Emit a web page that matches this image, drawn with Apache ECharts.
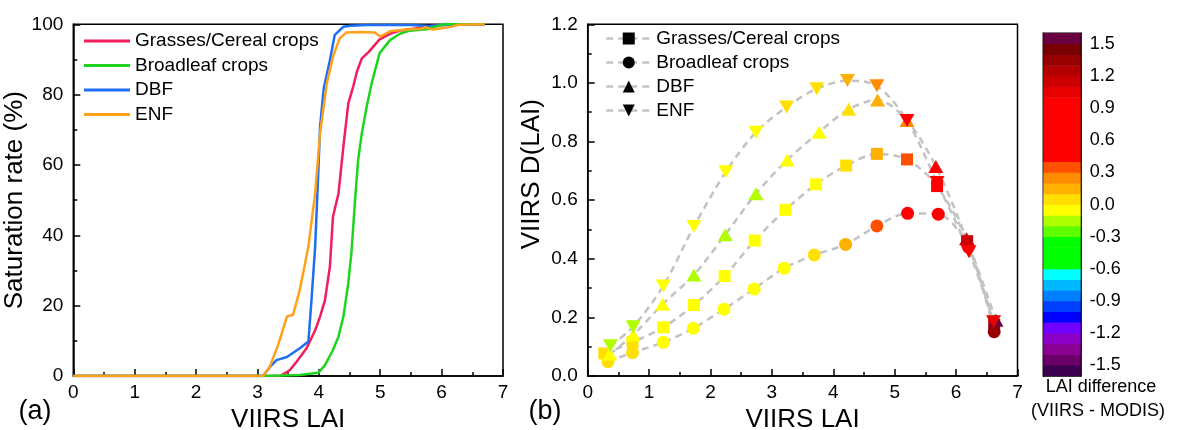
<!DOCTYPE html>
<html><head><meta charset="utf-8">
<script src="https://cdn.jsdelivr.net/npm/echarts@6/dist/echarts.min.js"></script>
<style>html,body{margin:0;padding:0;background:#fff}#c{width:1183px;height:430px}</style>
</head><body><div id="c"></div>
<script>
const FONT = 'Arial, "Liberation Sans", sans-serif';

// ---------- shared ----------
const classNames = ['Grasses/Cereal crops', 'Broadleaf crops', 'DBF', 'ENF'];
const lineColorsA = ['#f21d5b', '#1fd41f', '#1e6ef5', '#ffa01a'];

// ---------- panel (a): saturation rate (%) vs VIIRS LAI ----------
const satGrasses = [[0,0],[3.09,0],[3.37,0],[3.53,1.7],[3.64,4.1],[3.80,7.9],[3.94,13],[4.02,16.9],[4.10,21.6],[4.18,31.1],[4.23,45.3],[4.32,51.9],[4.40,65.2],[4.48,77.5],[4.56,82.3],[4.62,86.5],[4.70,90.3],[4.81,92.1],[4.99,95.7],[5.16,97.3],[5.32,98.2],[5.59,98.9],[5.86,99.6],[6.2,100],[6.7,100]];
const satBroadleaf = [[0,0],[3.09,0],[3.69,0.3],[3.99,0.9],[4.10,3.1],[4.23,7.4],[4.32,11.2],[4.40,16.9],[4.48,26.4],[4.53,34.9],[4.59,50],[4.64,61.4],[4.70,69],[4.78,76.6],[4.86,83.2],[4.99,91.8],[5.16,95.5],[5.32,97.3],[5.48,98.2],[5.76,98.6],[6.03,100],[6.7,100]];
const satDBF = [[0,0],[3.09,0],[3.20,2.5],[3.31,4.5],[3.48,5.4],[3.69,7.9],[3.83,9.8],[3.88,21.6],[3.94,36.8],[3.99,57.6],[4.02,70.9],[4.08,81.8],[4.18,89.8],[4.26,97],[4.40,99.3],[4.51,99.6],[4.78,99.8],[5.5,99.8],[5.8,99.5],[6.0,99.8],[6.5,100],[6.7,100]];
const satENF = [[0,0],[3.09,0],[3.20,2.6],[3.34,9],[3.48,16.9],[3.58,17.4],[3.69,24.5],[3.83,36.8],[3.94,52],[4.02,69],[4.13,83.2],[4.23,90.8],[4.34,96],[4.45,97.7],[4.70,97.8],[4.91,97.7],[5.00,96.5],[5.16,98],[5.43,98.5],[5.67,98.7],[5.73,99.2],[5.86,98.5],[6.13,99.2],[6.29,99.9],[6.7,100]];

// ---------- panel (b): [VIIRS LAI, VIIRS D(LAI), LAI difference] ----------
const dGrasses = [[0.27,0.077,0.05],[0.73,0.115,0.05],[1.23,0.166,-0.05],[1.73,0.242,-0.05],[2.23,0.341,-0.05],[2.72,0.462,-0.05],[3.22,0.567,-0.05],[3.72,0.654,-0.05],[4.21,0.718,0.05],[4.71,0.758,0.15],[5.20,0.739,0.35],[5.69,0.648,0.6],[6.18,0.46,1.15],[6.62,0.175,1.25]];
const dBroadleaf = [[0.33,0.049,0.05],[0.73,0.080,0.05],[1.23,0.115,-0.05],[1.72,0.163,-0.05],[2.22,0.228,-0.05],[2.71,0.297,-0.05],[3.20,0.368,-0.05],[3.69,0.413,0.05],[4.20,0.449,0.15],[4.71,0.512,0.35],[5.21,0.555,0.6],[5.71,0.552,0.6],[6.20,0.44,0.9],[6.62,0.151,1.35]];
const dDBF = [[0.36,0.075,-0.05],[0.74,0.14,-0.05],[1.22,0.245,-0.05],[1.73,0.345,-0.15],[2.24,0.482,-0.15],[2.74,0.622,-0.15],[3.25,0.737,-0.05],[3.77,0.832,-0.05],[4.25,0.91,0.05],[4.72,0.942,0.15],[5.20,0.872,0.25],[5.67,0.715,0.6],[6.17,0.468,1.15],[6.65,0.19,1.55]];
const dENF = [[0.37,0.103,-0.15],[0.74,0.168,-0.15],[1.23,0.307,-0.05],[1.73,0.51,-0.05],[2.25,0.697,-0.05],[2.74,0.832,-0.05],[3.24,0.918,0.05],[3.73,0.98,0.05],[4.23,1.008,0.15],[4.71,0.99,0.25],[5.20,0.872,0.6],[5.69,0.66,0.6],[6.21,0.424,0.8],[6.61,0.185,1.05]];
const markerSymbols = ['rect', 'circle', 'triangle', 'triangle'];
const markerRotate = [0, 0, 0, 180];

// ---------- colour bar (LAI difference) ----------
const cbarEdges = [-1.6,-1.5,-1.4,-1.3,-1.2,-1.1,-1.0,-0.9,-0.8,-0.7,-0.6,-0.5,-0.4,-0.3,-0.2,-0.1,0.0,0.1,0.2,0.3,0.4,0.5,0.6,0.7,0.8,0.9,1.0,1.1,1.2,1.3,1.4,1.5,1.6];
const cbarColors = ['#3c0050','#6a0068','#8a0090','#8c00c8','#7000ff','#0000ff','#0040ff','#0080ff','#00b8ff','#00ffff',
                    '#00ff00','#00ff00','#00ff00','#60ff00','#b0ff00','#ffff00',
                    '#ffe000','#ffb000','#ff8c00','#ff5000',
                    '#ff0000','#ff0000','#ff0000','#ff0000','#ff0000','#ff0000',
                    '#e60000','#cc0000','#b40000','#960000','#780000','#6b0040'];
const cbarTicks = [-1.5,-1.2,-0.9,-0.6,-0.3,0,0.3,0.6,0.9,1.2,1.5];

// ---------- build option ----------
const satData = [satGrasses, satBroadleaf, satDBF, satENF];
const dData = [dGrasses, dBroadleaf, dDBF, dENF];
const bands = cbarColors.map((c, i) => [cbarEdges[i], cbarEdges[i + 1]]);
const pieces = cbarColors.map((c, i) => ({ gte: cbarEdges[i], lt: cbarEdges[i + 1], color: c }));

function makeAxis(extra) {
  return Object.assign({
    axisLine: { show: true, onZero: false, lineStyle: { color: '#000', width: 1.5 } },
    axisTick: { show: true, inside: true, length: 7, lineStyle: { color: '#000', width: 1.5 } },
    minorTick: { show: true, splitNumber: 2, length: 4, lineStyle: { color: '#000', width: 1.5 } },
    splitLine: { show: false },
    nameTextStyle: { color: '#000', fontSize: 26, fontFamily: FONT }
  }, extra);
}

const series = [];
// panel (a) lines: drawn order red, blue, green, orange
[0, 2, 1, 3].forEach(i => {
  series.push({
    name: classNames[i], type: 'line', xAxisIndex: 0, yAxisIndex: 0,
    data: satData[i], showSymbol: false, symbol: 'none',
    lineStyle: { color: lineColorsA[i], width: 2.5 }, itemStyle: { color: lineColorsA[i] },
    animation: false, z: 3
  });
});
// panel (b) dashed curves
classNames.forEach((n, i) => {
  series.push({
    name: 'b:' + n, type: 'line', xAxisIndex: 1, yAxisIndex: 1,
    data: dData[i].map(p => [p[0], p[1]]), smooth: 0.3,
    showSymbol: false, symbol: markerSymbols[i], symbolRotate: markerRotate[i],
    lineStyle: { color: '#c3c3c3', width: 2.5, type: [7, 5] },
    itemStyle: { color: '#000' }, animation: false, z: 2
  });
});
const scatterStart = series.length;
classNames.forEach((n, i) => {
  series.push({
    name: 'pts:' + n, type: 'scatter', xAxisIndex: 1, yAxisIndex: 1,
    data: dData[i], symbol: markerSymbols[i], symbolRotate: markerRotate[i],
    symbolSize: i === 0 ? 12 : (i === 1 ? 13 : [15, 13]),
    itemStyle: { opacity: 1 }, animation: false, z: 4 + i
  });
});
// colour bar
series.push({
  name: 'cbar', type: 'custom', xAxisIndex: 2, yAxisIndex: 2,
  data: bands, animation: false, silent: true,
  renderItem: (params, api) => {
    const lo = api.value(0), hi = api.value(1);
    const p0 = api.coord([0, hi]);
    const p1 = api.coord([1, lo]);
    return {
      type: 'rect',
      shape: { x: p0[0], y: p0[1] - 0.3, width: p1[0] - p0[0], height: p1[1] - p0[1] + 0.6 },
      style: { fill: cbarColors[params.dataIndex] }
    };
  },
  encode: { x: -1, y: [0, 1] }
});

const gridCommon = { show: true, borderColor: '#000', borderWidth: 1.5, containLabel: false, outerBoundsMode: 'none' };
const labelStyle = { color: '#000', fontSize: 19, fontFamily: FONT };

const option = {
  backgroundColor: '#fff',
  textStyle: { fontFamily: FONT },
  animation: false,
  grid: [
    Object.assign({ left: 73.3, top: 24.3, width: 429.7, height: 351.7 }, gridCommon),
    Object.assign({ left: 587.7, top: 24.3, width: 429.8, height: 351.7 }, gridCommon),
    Object.assign({ left: 1043.3, top: 33.3, width: 37.4, height: 342.7 }, gridCommon)
  ],
  xAxis: [
    makeAxis({ gridIndex: 0, type: 'value', min: 0, max: 7, interval: 1,
      name: 'VIIRS LAI', nameLocation: 'middle', nameGap: 29,
      axisLabel: Object.assign({ margin: 7 }, labelStyle) }),
    makeAxis({ gridIndex: 1, type: 'value', min: 0, max: 7, interval: 1,
      name: 'VIIRS LAI', nameLocation: 'middle', nameGap: 29,
      axisLabel: Object.assign({ margin: 7 }, labelStyle) }),
    { gridIndex: 2, type: 'value', min: 0, max: 1, show: false }
  ],
  yAxis: [
    makeAxis({ gridIndex: 0, type: 'value', min: 0, max: 100, interval: 20,
      name: 'Saturation rate (%)', nameLocation: 'middle', nameGap: 40,
      axisLabel: Object.assign({ margin: 10 }, labelStyle) }),
    makeAxis({ gridIndex: 1, type: 'value', min: 0, max: 1.2, interval: 0.2,
      name: 'VIIRS D(LAI)', nameLocation: 'middle', nameGap: 43,
      nameTextStyle: { color: '#000', fontSize: 26, fontFamily: FONT, padding: [0, 0, 0, 52] },
      axisLabel: Object.assign({ margin: 10, formatter: v => v.toFixed(1) }, labelStyle) }),
    { gridIndex: 2, type: 'value', min: -1.6, max: 1.6, position: 'right',
      axisLine: { show: true, onZero: false, lineStyle: { color: '#000', width: 1.5 } },
      axisTick: { show: true, inside: true, length: 4, customValues: cbarTicks, lineStyle: { color: '#000', width: 1.5 } },
      axisLabel: { show: true, customValues: cbarTicks, color: '#000', fontSize: 18, fontFamily: FONT, margin: 9, formatter: v => Number(v).toFixed(1) },
      splitLine: { show: false } },
    { gridIndex: 2, type: 'value', min: -1.6, max: 1.6, position: 'left',
      axisLine: { show: true, onZero: false, lineStyle: { color: '#000', width: 1.5 } },
      axisTick: { show: true, inside: true, length: 4, customValues: cbarTicks, lineStyle: { color: '#000', width: 1.5 } },
      axisLabel: { show: false },
      splitLine: { show: false } }
  ],
  visualMap: [{
    type: 'piecewise', show: false, dimension: 2,
    seriesIndex: [scatterStart, scatterStart + 1, scatterStart + 2, scatterStart + 3],
    pieces: pieces
  }],
  legend: [
    { data: classNames, orient: 'vertical', left: 84, top: 31.5, itemGap: 5.5, padding: 0,
      itemWidth: 46, itemHeight: 3, icon: 'rect',
      itemStyle: { borderWidth: 0 },
      textStyle: { color: '#000', fontSize: 19, fontFamily: FONT }, selectedMode: false },
    { data: classNames.map(n => 'b:' + n), orient: 'vertical', left: 605, top: 29, itemGap: 5, padding: 0,
      itemWidth: 45, itemHeight: 15,
      itemStyle: { color: '#000', borderWidth: 0 },
      lineStyle: { color: '#c3c3c3', width: 2.5, type: [7, 5] },
      formatter: n => n.replace(/^b:/, ''),
      textStyle: { color: '#000', fontSize: 19, fontFamily: FONT }, selectedMode: false }
  ],
  graphic: [
    { type: 'text', x: 35, y: 412, style: { text: '(a)', font: '27px ' + FONT, fill: '#000', textAlign: 'center', textVerticalAlign: 'middle' } },
    { type: 'text', x: 545, y: 412, style: { text: '(b)', font: '27px ' + FONT, fill: '#000', textAlign: 'center', textVerticalAlign: 'middle' } },
    { type: 'text', x: 1101, y: 387, style: { text: 'LAI difference', font: '18px ' + FONT, fill: '#000', textAlign: 'center', textVerticalAlign: 'middle' } },
    { type: 'text', x: 1098, y: 411, style: { text: '(VIIRS - MODIS)', font: '18px ' + FONT, fill: '#000', textAlign: 'center', textVerticalAlign: 'middle' } }
  ],
  series: series
};

const chart = echarts.init(document.getElementById('c'), null, { renderer: 'canvas' });
chart.setOption(option);
</script></body></html>
